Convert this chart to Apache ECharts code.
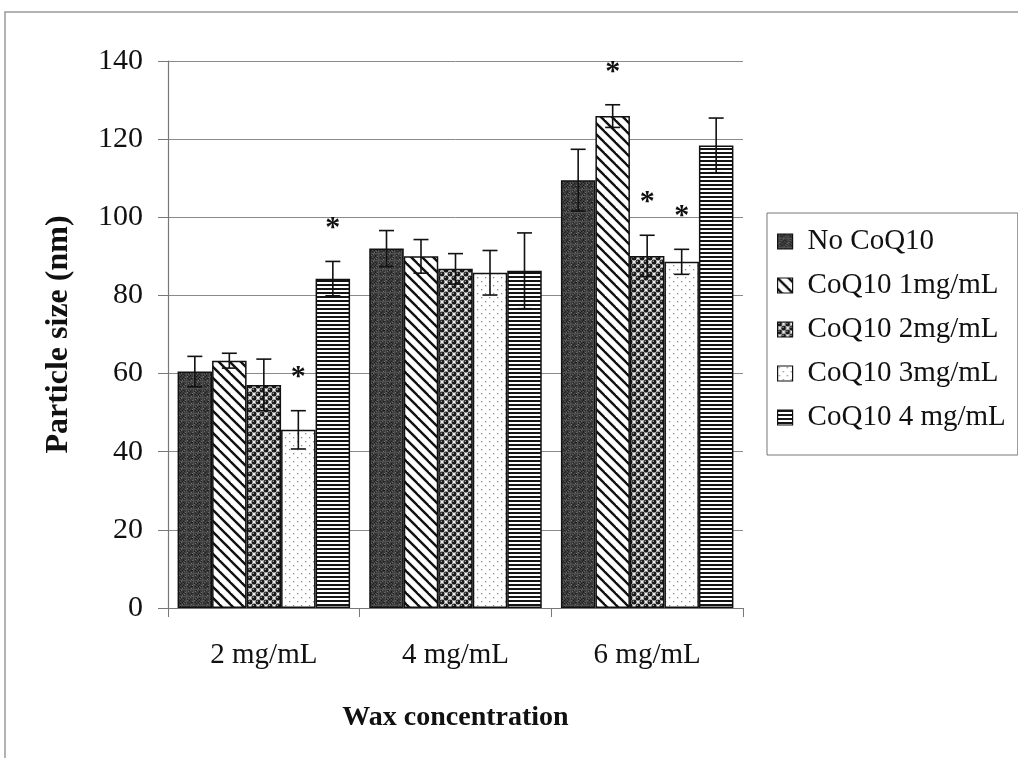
<!DOCTYPE html>
<html><head><meta charset="utf-8">
<script src="https://cdn.jsdelivr.net/npm/echarts@6/dist/echarts.min.js"></script>
<style>html,body{margin:0;padding:0;background:#fff}#c{width:1018px;height:758px}</style>
</head><body><div id="c"></div>
<script>
// ---- data ----
const categories = ['2 mg/mL', '4 mg/mL', '6 mg/mL'];
const seriesNames = ['No CoQ10', 'CoQ10 1mg/mL', 'CoQ10 2mg/mL', 'CoQ10 3mg/mL', 'CoQ10 4 mg/mL'];
const noCoQ10 = [60.5, 92.0, 109.5];
const coq1 = [63.3, 90.0, 125.9];
const coq2 = [57.1, 86.8, 90.1];
const coq3 = [45.6, 85.8, 88.6];
const coq4 = [84.3, 86.3, 118.4];
const errNo = [3.9, 4.6, 7.9];
const err1 = [1.9, 4.3, 2.9];
const err2 = [6.6, 3.9, 5.3];
const err3 = [4.9, 5.7, 3.2];
const err4 = [4.4, 9.7, 7.0];
const sigNo = [0, 0, 0];
const sig1 = [0, 0, 1];
const sig2 = [0, 0, 1];
const sig3 = [1, 0, 1];
const sig4 = [1, 0, 0];
const yMin = 0, yMax = 140, yStep = 20;
const xTitle = 'Wax concentration';
const yTitle = 'Particle size (nm)';

const means = [noCoQ10, coq1, coq2, coq3, coq4];
const errs = [errNo, err1, err2, err3, err4];
const sigs = [sigNo, sig1, sig2, sig3, sig4];

// ---- fill patterns ----
function makePattern(kind) {
  const c = document.createElement('canvas');
  let w = 8, h = 8;
  if (kind === 'diag') { w = 11; h = 11; }
  if (kind === 'hstripe') { w = 4; h = 4; }
  if (kind === 'speckle') { w = 16; h = 16; }
  c.width = w; c.height = h;
  const g = c.getContext('2d');
  g.fillStyle = '#fff'; g.fillRect(0, 0, w, h);
  if (kind === 'speckle') {
    g.fillStyle = '#3a3a3a'; g.fillRect(0, 0, w, h);
    for (let y = 0; y < h; y++) for (let x = 0; x < w; x++) {
      const v = (x * 7 + y * 13 + x * y * 5) % 9;
      if (v === 0) { g.fillStyle = '#6a6a6a'; g.fillRect(x, y, 1, 1); }
      else if (v === 4) { g.fillStyle = '#1e1e1e'; g.fillRect(x, y, 1, 1); }
      else if (v === 7) { g.fillStyle = '#505050'; g.fillRect(x, y, 1, 1); }
    }
  } else if (kind === 'diag') {
    g.strokeStyle = '#111'; g.lineWidth = 2.4;
    for (const k of [-w, 0, w]) { g.beginPath(); g.moveTo(k - 1, -1); g.lineTo(k + w + 1, h + 1); g.stroke(); }
  } else if (kind === 'bubble') {
    g.fillStyle = '#eeeeee'; g.fillRect(0, 0, w, h);
    for (const [px, py] of [[2, 2], [6, 6], [10, -2], [-2, 10], [6, -2], [-2, 6], [10, 6], [6, 10], [10, 2], [2, 10], [10, 10], [-2, -2]]) {
      g.fillStyle = '#1a1a1a'; g.beginPath(); g.arc(px, py, 2.5, 0, Math.PI * 2); g.fill();
      g.fillStyle = '#e0e0e0'; g.fillRect(px - 1.3, py - 1.3, 1.1, 1.1);
    }
  } else if (kind === 'dots') {
    g.fillStyle = '#8a8a8a';
    g.fillRect(1, 1, 1.3, 1.3); g.fillRect(5, 5, 1.3, 1.3);
  } else if (kind === 'hstripe') {
    g.fillStyle = '#151515'; g.fillRect(0, 0, w, 2);
  }
  return { image: c, repeat: 'repeat' };
}
const patterns = [makePattern('speckle'), makePattern('diag'), makePattern('bubble'), makePattern('dots'), makePattern('hstripe')];

const FONT = '"Liberation Serif", "Times New Roman", serif';
const nS = seriesNames.length;

function errRenderer(si) {
  return function (params, api) {
    const x = api.value(0), m = api.value(1), e = api.value(2), s = api.value(3);
    const catW = api.size([1, 0])[0];
    const barW = catW * 0.9 / nS;
    const cx = api.coord([x, m])[0] + (si - (nS - 1) / 2) * barW;
    const top = api.coord([x, m + e])[1], bot = api.coord([x, m - e])[1];
    const cap = 7.5;
    const ls = { stroke: '#111', lineWidth: 1.6 };
    const ch = [
      { type: 'line', shape: { x1: cx, y1: top, x2: cx, y2: bot }, style: ls },
      { type: 'line', shape: { x1: cx - cap, y1: top, x2: cx + cap, y2: top }, style: ls },
      { type: 'line', shape: { x1: cx - cap, y1: bot, x2: cx + cap, y2: bot }, style: ls }
    ];
    if (s) ch.push({ type: 'text', x: cx, y: top - 33, style: { text: '*', font: 'bold 30px ' + FONT, fill: '#111', textAlign: 'center', textVerticalAlign: 'middle' } });
    return { type: 'group', children: ch };
  };
}

const series = [];
seriesNames.forEach((name, i) => {
  series.push({
    name, type: 'bar', data: means[i], barGap: '0%', barCategoryGap: '10%',
    itemStyle: { color: patterns[i], borderColor: '#111', borderWidth: 1.5 },
    emphasis: { disabled: true }, z: 2
  });
});
seriesNames.forEach((name, i) => {
  series.push({
    type: 'custom', name: name + ' err', renderItem: errRenderer(i), z: 5,
    data: categories.map((c, k) => [k, means[i][k], errs[i][k], sigs[i][k]]),
    encode: { x: 0, y: 1 }, silent: true
  });
});

const chart = echarts.init(document.getElementById('c'), null, { renderer: 'canvas' });
chart.setOption({
  animation: false,
  backgroundColor: '#fff',
  graphic: [{ type: 'rect', shape: { x: 5, y: 12, width: 1100, height: 800 }, style: { fill: null, stroke: '#9a9a9a', lineWidth: 1.5 }, silent: true }],
  grid: { left: 168, right: 275, top: 61, bottom: 150 },
  legend: {
    data: seriesNames, orient: 'vertical', left: 767, top: 213,
    padding: [13, 12, 22, 10], itemGap: 13, itemWidth: 15, itemHeight: 15,
    borderColor: '#777', borderWidth: 1, selectedMode: false,
    icon: 'rect',
    itemStyle: { borderColor: '#111', borderWidth: 1.2 },
    textStyle: { fontFamily: FONT, fontSize: 29, color: '#111', lineHeight: 31, padding: [0, 0, 0, 10] }
  },
  xAxis: {
    type: 'category', data: categories,
    axisLine: { lineStyle: { color: '#777', width: 1.2 } },
    axisTick: { show: true, length: 9, lineStyle: { color: '#777' } },
    axisLabel: { fontFamily: FONT, fontSize: 29, color: '#111', margin: 33 },
    name: xTitle, nameLocation: 'middle', nameGap: 96,
    nameTextStyle: { fontFamily: FONT, fontSize: 28, fontWeight: 'bold', color: '#111' }
  },
  yAxis: {
    type: 'value', min: yMin, max: yMax, interval: yStep,
    axisLine: { show: true, lineStyle: { color: '#777', width: 1.2 } },
    axisTick: { show: true, length: 10, lineStyle: { color: '#777' } },
    splitLine: { lineStyle: { color: '#8a8a8a', width: 1 } },
    axisLabel: { fontFamily: FONT, fontSize: 30, color: '#111', margin: 25 },
    name: yTitle, nameLocation: 'middle', nameGap: 93, nameRotate: 90,
    nameTextStyle: { fontFamily: FONT, fontSize: 32, fontWeight: 'bold', color: '#111' }
  },
  series
});
</script></body></html>
